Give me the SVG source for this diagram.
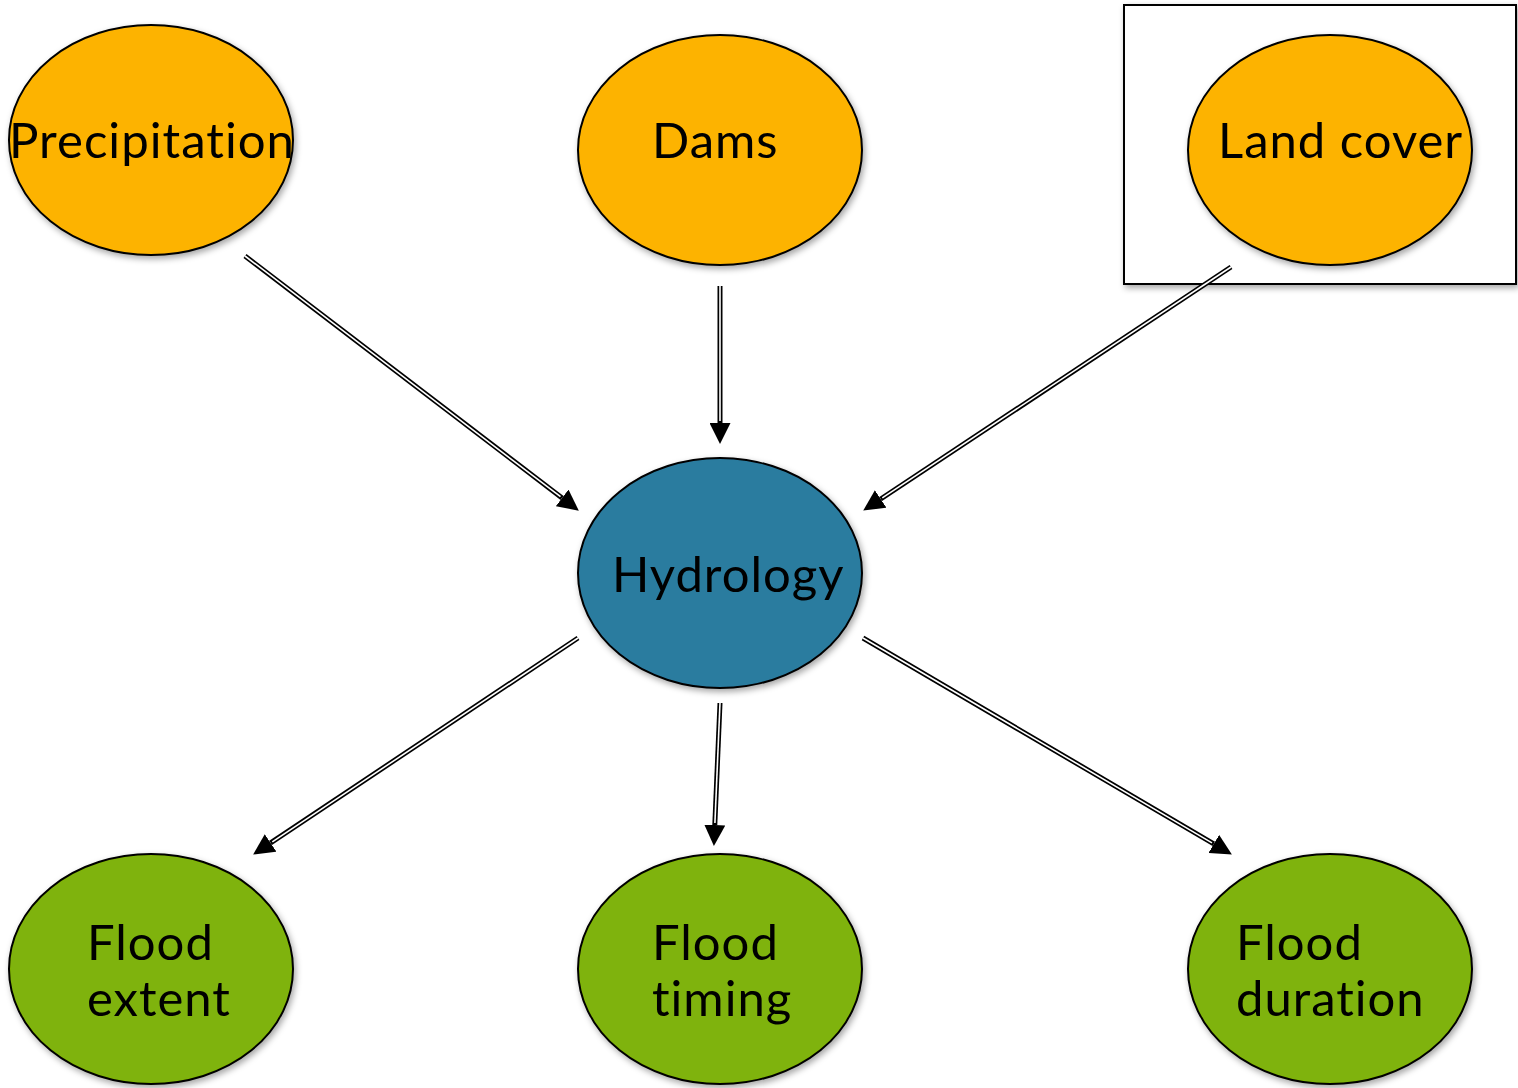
<svg xmlns="http://www.w3.org/2000/svg" width="1518" height="1088" viewBox="0 0 1518 1088">
  <style>
    .node { stroke: #000; stroke-width: 2; filter: url(#shadow); }
    .driver { fill: #FDB300; }
    .core { fill: #2C7B9F; }
    .outcome { fill: #7FB307; }
    .label { font-family: "Lato", "Liberation Sans", sans-serif; font-size: 49px; fill: #000; font-variant-ligatures: none; letter-spacing: 1px; }
    .wire { fill: none; stroke: #000; stroke-width: 5; }
    .gap { fill: none; stroke: #fff; stroke-width: 1.6; }
  </style>
  <defs>
    <filter id="shadow" x="-10%" y="-10%" width="125%" height="125%">
      <feDropShadow dx="2" dy="3" stdDeviation="3" flood-color="#000" flood-opacity="0.35"/>
    </filter>
    <marker id="head" viewBox="0 0 20 20" refX="0" refY="10" markerWidth="21" markerHeight="21" markerUnits="userSpaceOnUse" orient="auto">
      <path d="M0,0 L20,10 L0,20 z" fill="#000"/>
    </marker>
  </defs>

  <rect id="highlight-box" x="1124" y="5" width="392" height="279" fill="#fff" stroke="#000" stroke-width="2" filter="url(#shadow)"/>

  <g id="connectors">
    <path class="wire" d="M245,256 L562.1,497.9" marker-end="url(#head)"/>
    <path class="gap" d="M245,256 L560.5,496.7"/>
    <path class="wire" d="M720,286 L720,423" marker-end="url(#head)"/>
    <path class="gap" d="M720,286 L720,421"/>
    <path class="wire" d="M1231,267 L880.7,499" marker-end="url(#head)"/>
    <path class="gap" d="M1231,267 L882.3,497.9"/>
    <path class="wire" d="M578,638 L270.6,842.9" marker-end="url(#head)"/>
    <path class="gap" d="M578,638 L272.3,841.8"/>
    <path class="wire" d="M720,703 L714.8,825" marker-end="url(#head)"/>
    <path class="gap" d="M720,703 L714.9,823"/>
    <path class="wire" d="M863,638 L1213.8,843.9" marker-end="url(#head)"/>
    <path class="gap" d="M863,638 L1212,842.9"/>
  </g>

  <g id="precipitation">
    <ellipse class="node driver" cx="151" cy="140" rx="142" ry="115"/>
    <text class="label" x="9" y="158" textLength="286" lengthAdjust="spacingAndGlyphs">Precipitation</text>
  </g>
  <g id="dams">
    <ellipse class="node driver" cx="720" cy="150" rx="142" ry="115"/>
    <text class="label" x="652" y="158">Dams</text>
  </g>
  <g id="land-cover">
    <ellipse class="node driver" cx="1330" cy="150" rx="142" ry="115"/>
    <text class="label" x="1218" y="158">Land cover</text>
  </g>
  <g id="hydrology">
    <ellipse class="node core" cx="720" cy="573" rx="142" ry="115"/>
    <text class="label" x="612" y="592">Hydrology</text>
  </g>
  <g id="flood-extent">
    <ellipse class="node outcome" cx="151" cy="969" rx="142" ry="115"/>
    <text class="label" x="87" y="960">Flood</text>
    <text class="label" x="87" y="1016">extent</text>
  </g>
  <g id="flood-timing">
    <ellipse class="node outcome" cx="720" cy="969" rx="142" ry="115"/>
    <text class="label" x="652" y="960">Flood</text>
    <text class="label" x="652" y="1016">timing</text>
  </g>
  <g id="flood-duration">
    <ellipse class="node outcome" cx="1330" cy="969" rx="142" ry="115"/>
    <text class="label" x="1236" y="960">Flood</text>
    <text class="label" x="1236" y="1016">duration</text>
  </g>
</svg>
